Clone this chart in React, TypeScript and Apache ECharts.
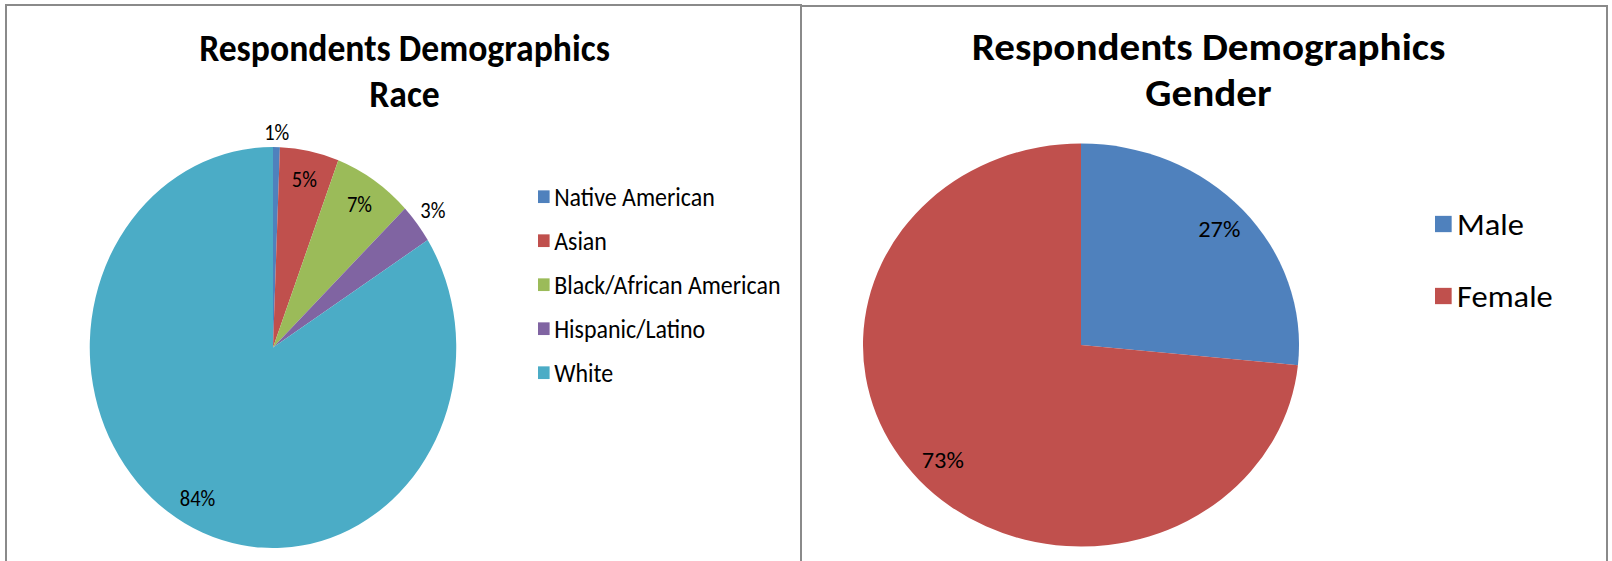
import React, { useEffect, useRef } from "react";
import * as echarts from "echarts";

// ---------- data ----------
const titleLine1 = "Respondents Demographics";

const raceTitle = "Race";
const raceCategories = ["Native American", "Asian", "Black/African American", "Hispanic/Latino", "White"];
const raceValues = [0.6, 5.2, 7.0, 3.2, 84.0];
const raceColors = ["#4F81BD", "#C0504D", "#9BBB59", "#8064A2", "#4BACC6"];

const genderTitle = "Gender";
const genderCategories = ["Male", "Female"];
const genderValues = [26.6, 73.4];
const genderColors = ["#4F81BD", "#C0504D"];

const FONT = "Carlito, Calibri, Lato, 'Open Sans', sans-serif";

// label placement: 0 = inside near the rim, >0 = outside, at r + value
const raceLabelPlacement = [12, 0, 0, 19, 0];
const genderLabelPlacement = [0, 0];

type Cfg = {
  names: string[];
  values: number[];
  colors: string[];
  placement: number[];
  sub: string;
  cx: number;
  cy: number;
  r: number;
  titleX: number;
  titleFont: number;
  legendLeft: number;
  legendFirstCenter: number;
  legendStep: number;
  legendIconW: number;
  legendIconH: number;
  legendFont: number;
};

function buildOption(c: Cfg) {
  const labelFont = { fontFamily: FONT, fontSize: 22.5, color: "#000" };
  const base = c.names.map((n, i) => ({ name: n, value: c.values[i], itemStyle: { color: c.colors[i] } }));
  const overlay = (showFn: (i: number) => boolean) =>
    c.names.map((n, i) => ({
      name: n,
      value: c.values[i],
      itemStyle: { color: "transparent", borderWidth: 0 },
      label: { show: showFn(i) },
    }));
  const common = {
    type: "pie",
    center: [c.cx, c.cy],
    startAngle: 90,
    clockwise: true,
    percentPrecision: 0,
    avoidLabelOverlap: false,
    silent: true,
    labelLine: { show: false },
    emphasis: { disabled: true },
  };
  const outerDistances = Array.from(new Set(c.placement.filter((p) => p > 0)));
  const lh = c.legendFont + 3;
  return {
    animation: false,
    backgroundColor: "transparent",
    graphic: [
      {
        type: "text",
        x: c.titleX,
        y: 47,
        style: { text: titleLine1, fontFamily: FONT, fontSize: c.titleFont, fontWeight: "bold", fill: "#000", align: "center", verticalAlign: "middle" },
      },
      {
        type: "text",
        x: c.titleX,
        y: 93,
        style: { text: c.sub, fontFamily: FONT, fontSize: c.titleFont, fontWeight: "bold", fill: "#000", align: "center", verticalAlign: "middle" },
      },
    ],
    legend: {
      orient: "vertical",
      left: c.legendLeft,
      top: c.legendFirstCenter - lh / 2,
      padding: 0,
      icon: "rect",
      itemWidth: c.legendIconW,
      itemHeight: c.legendIconH,
      itemGap: c.legendStep - lh,
      selectedMode: false,
      textStyle: { fontFamily: FONT, fontSize: c.legendFont, lineHeight: lh, color: "#000" },
      data: c.names.map((n, i) => ({ name: n, itemStyle: { color: c.colors[i] } })),
    },
    series: [
      {
        ...common,
        name: "main",
        radius: [0, c.r],
        data: base,
        label: { show: false },
        itemStyle: { borderWidth: 0 },
      },
      {
        ...common,
        name: "inner-labels",
        radius: [c.r * 0.68, c.r],
        data: overlay((i) => c.placement[i] === 0),
        label: { position: "inside", rotate: 0, formatter: "{d}%", ...labelFont },
      },
      ...outerDistances.map((d) => ({
        ...common,
        name: "outer-labels-" + d,
        radius: [c.r, c.r + 2 * d],
        data: overlay((i) => c.placement[i] === d),
        label: { position: "inside", rotate: 0, formatter: "{d}%", ...labelFont },
      })),
    ],
  };
}

function Chart({ option, width, left, sx }: { option: any; width: number; left: number; sx: number }) {
  const ref = useRef<HTMLDivElement>(null);
  useEffect(() => {
    if (!ref.current) return;
    const chart = echarts.init(ref.current, undefined, { renderer: "svg" });
    chart.setOption(option);
    return () => chart.dispose();
  }, [option]);
  return (
    <div
      ref={ref}
      style={{
        position: "absolute",
        left,
        top: 0,
        width,
        height: 561,
        transform: `scale(${sx}, 1)`,
        transformOrigin: "0 0",
      }}
    />
  );
}

const SX_L = 0.914;
const SX_R = 1.082;

const leftOption = buildOption({
  names: raceCategories,
  values: raceValues,
  colors: raceColors,
  placement: raceLabelPlacement,
  sub: raceTitle,
  cx: 273 / SX_L,
  cy: 347.5,
  r: 200.5,
  titleX: 404.5 / SX_L,
  titleFont: 39,
  legendLeft: 538 / SX_L,
  legendFirstCenter: 196.7,
  legendStep: 44,
  legendIconW: 12.7,
  legendIconH: 12.7,
  legendFont: 26.2,
});

const rightOption = buildOption({
  names: genderCategories,
  values: genderValues,
  colors: genderColors,
  placement: genderLabelPlacement,
  sub: genderTitle,
  cx: 281 / SX_R,
  cy: 345,
  r: 201.5,
  titleX: 408.5 / SX_R,
  titleFont: 38,
  legendLeft: 635 / SX_R,
  legendFirstCenter: 224,
  legendStep: 72,
  legendIconW: 15.4,
  legendIconH: 16.3,
  legendFont: 30,
});

export default function App() {
  return (
    <div style={{ position: "fixed", left: 0, top: 0, width: 1612, height: 561, overflow: "hidden", background: "#fff" }}>
      <Chart option={leftOption} width={802 / SX_L} left={0} sx={SX_L} />
      <Chart option={rightOption} width={812 / SX_R} left={800} sx={SX_R} />
      <div
        style={{
          position: "absolute",
          left: 5,
          top: 4,
          width: 797,
          height: 620,
          boxSizing: "border-box",
          border: "2px solid #8a8a8a",
          pointerEvents: "none",
        }}
      />
      <div
        style={{
          position: "absolute",
          left: 800,
          top: 5,
          width: 808,
          height: 620,
          boxSizing: "border-box",
          border: "2px solid #8a8a8a",
          pointerEvents: "none",
        }}
      />
    </div>
  );
}
